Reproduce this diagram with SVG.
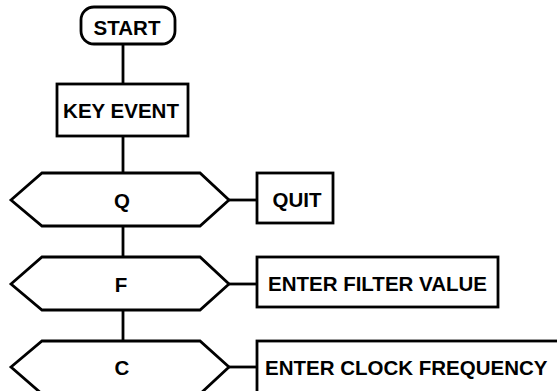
<svg xmlns="http://www.w3.org/2000/svg" width="557" height="391" viewBox="0 0 557 391">
  <style>
    .shape { fill: #ffffff; stroke: #000000; stroke-width: 2.8; stroke-linejoin: miter; }
    .wire { fill: none; stroke: #000000; stroke-width: 2.8; }
    .label { font-family: "Liberation Sans", Arial, sans-serif; font-weight: bold; font-size: 20.5px; fill: #000000; }
    .mid { text-anchor: middle; }
  </style>
  <rect width="557" height="391" fill="#ffffff"/>

  <!-- connectors -->
  <g id="connectors">
    <line class="wire" x1="123" y1="44" x2="123" y2="84"/>
    <line class="wire" x1="123" y1="136" x2="123" y2="173"/>
    <line class="wire" x1="123" y1="226" x2="123" y2="257"/>
    <line class="wire" x1="123" y1="310" x2="123" y2="341"/>
    <line class="wire" x1="229" y1="200" x2="257" y2="200"/>
    <line class="wire" x1="229" y1="284" x2="257" y2="284"/>
    <line class="wire" x1="229" y1="367" x2="257" y2="367"/>
  </g>

  <g id="start">
    <rect class="shape" x="81" y="7" width="94" height="37" rx="13" ry="13"/>
    <text class="label mid" x="127" y="35">START</text>
  </g>

  <g id="key-event">
    <rect class="shape" x="57" y="84" width="131" height="52"/>
    <text class="label mid" x="121" y="118">KEY EVENT</text>
  </g>

  <g id="test-q">
    <polygon class="shape" points="11,200 42,173 200,173 229,200 200,226 42,226"/>
    <text class="label mid" x="122" y="208">Q</text>
  </g>

  <g id="quit">
    <rect class="shape" x="257" y="173" width="76" height="50"/>
    <text class="label mid" x="297" y="207">QUIT</text>
  </g>

  <g id="test-f">
    <polygon class="shape" points="11,284 42,257 200,257 229,284 200,310 42,310"/>
    <text class="label mid" x="121" y="292">F</text>
  </g>

  <g id="filter-value">
    <rect class="shape" x="257" y="257" width="241" height="50"/>
    <text class="label mid" x="377.5" y="291">ENTER FILTER VALUE</text>
  </g>

  <g id="test-c">
    <polygon class="shape" points="11,367 42,341 200,341 229,367 200,394 42,394"/>
    <text class="label mid" x="122" y="375">C</text>
  </g>

  <g id="clock-frequency">
    <rect class="shape" x="257" y="341" width="310" height="60"/>
    <text class="label" x="265" y="375">ENTER CLOCK FREQUENCY</text>
  </g>
</svg>
